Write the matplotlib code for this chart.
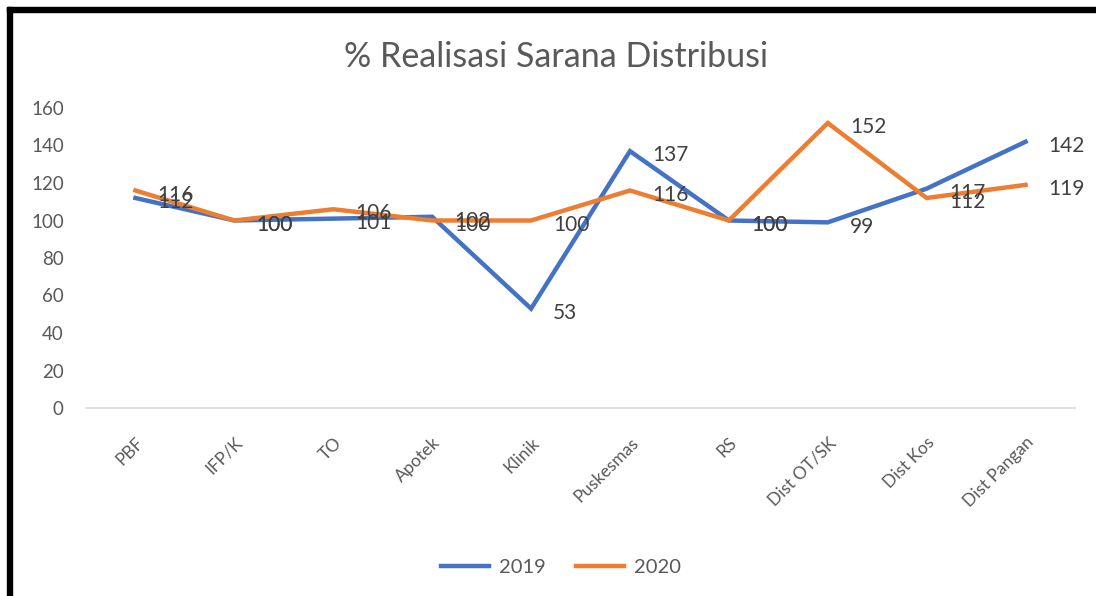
import matplotlib.pyplot as plt
from matplotlib.patches import Rectangle

plt.rcParams["font.family"] = ["Lato", "DejaVu Sans"]

categories = ["PBF", "IFP/K", "TO", "Apotek", "Klinik", "Puskesmas",
              "RS", "Dist OT/SK", "Dist Kos", "Dist Pangan"]
values_2019 = [112, 100, 101, 102, 53, 137, 100, 99, 117, 142]
values_2020 = [116, 100, 106, 100, 100, 116, 100, 152, 112, 119]
series = {"2019": values_2019, "2020": values_2020}
colors = {"2019": "#4472C4", "2020": "#ED7D31"}
text_gray = "#595959"

fig = plt.figure(figsize=(10.96, 5.96), dpi=100)
ax = fig.add_axes([86 / 1096, 1 - 408 / 596, (1075 - 86) / 1096, 300 / 596])

x = list(range(len(categories)))
for name, vals in series.items():
    ax.plot(x, vals, color=colors[name], linewidth=3.2, label=name,
            solid_joinstyle="miter")
# data labels to the right of each point (they overlap like in the original)
for name, vals in series.items():
    for xi, v in zip(x, vals):
        ax.annotate(str(v), (xi, v), xytext=(16, -3), textcoords="offset points",
                    ha="left", va="center", fontsize=15, color="#404040")

ax.set_xlim(-0.5, len(categories) - 0.5)
ax.set_ylim(0, 160)
ax.set_yticks(range(0, 161, 20))
ax.set_xticks(x)
ax.set_xticklabels(categories, rotation=45, ha="right", rotation_mode="anchor",
                   fontsize=12.5, color=text_gray)
ax.tick_params(axis="y", labelsize=13.5, labelcolor=text_gray, length=0, pad=16)
ax.tick_params(axis="x", length=0, pad=19)
for s in ["top", "right", "left"]:
    ax.spines[s].set_visible(False)
ax.spines["bottom"].set_color("#D9D9D9")
ax.spines["bottom"].set_linewidth(1.2)

fig.text(556 / 1096, 1 - 57 / 596, "% Realisasi Sarana Distribusi",
         ha="center", va="center", fontsize=24.5, color=text_gray)

fig.legend(loc="center", bbox_to_anchor=(561 / 1096, 1 - 567 / 596), ncol=2,
           frameon=False, fontsize=14.5, handlelength=2.4, handletextpad=0.5,
           columnspacing=1.5, labelcolor=text_gray)

# black frame on left and top edges
fig.patches.append(Rectangle((7 / 1096, -0.1), 5 / 1096, 1.1 - 7 / 596,
                             transform=fig.transFigure, color="black"))
fig.patches.append(Rectangle((7 / 1096, 1 - 12 / 596), 1.1, 5 / 596,
                             transform=fig.transFigure, color="black"))

fig.savefig("out.png", dpi=100)
